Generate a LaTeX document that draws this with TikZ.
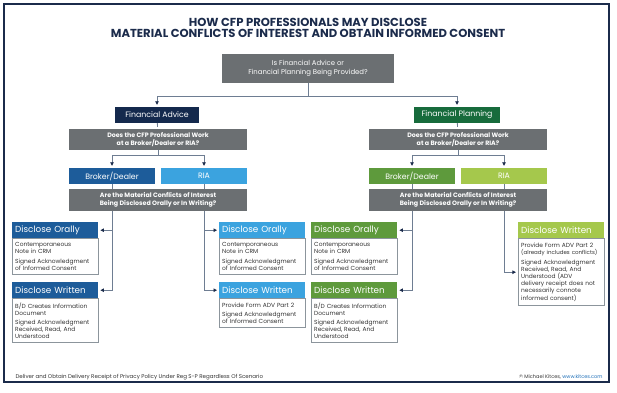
\documentclass[tikz,border=0pt]{standalone}
\usepackage{fontspec}
\setmainfont{Poppins}
\usepackage{tikz}
\usetikzlibrary{positioning, arrows.meta, backgrounds}

\definecolor{navy}{HTML}{1B2B4B}
\definecolor{qgrey}{HTML}{6B6F72}
\definecolor{advnavy}{HTML}{14294D}
\definecolor{plangreen}{HTML}{176B3C}
\definecolor{bdblue}{HTML}{1D5C9A}
\definecolor{riablue}{HTML}{3BA3DF}
\definecolor{bdgreen}{HTML}{5E9A3C}
\definecolor{riagreen}{HTML}{A5C84C}
\definecolor{boxgrey}{HTML}{8C959C}
\definecolor{linegrey}{HTML}{6E7D92}
\definecolor{textgrey}{HTML}{333333}
\definecolor{linkblue}{HTML}{1E6FB8}
\hyphenpenalty=10000

\begin{document}
\begin{tikzpicture}[x=1pt, y=-1pt, >={Triangle[length=3.5pt, width=3.5pt, color=navy]}, node distance=0pt,
            conn/.style={draw=linegrey, line width=0.8pt, shorten >=2pt},
            qbox/.style={fill=qgrey, text=white, minimum width=178pt, minimum height=21pt, inner sep=0pt, align=center, font=\bfseries\fontsize{6.3}{7.6}\selectfont},
            catbox/.style={fill=#1, text=white, minimum width=86pt, minimum height=16pt, inner sep=0pt, font=\fontsize{7.8}{9}\selectfont},
            hdr/.style={fill=#1, text=white, anchor=north west, text width=80pt, inner xsep=3pt, inner ysep=0pt, minimum height=16pt, align=left, font=\fontsize{8.8}{10}\selectfont},
            body/.style={draw=boxgrey, line width=0.6pt, fill=white, text=textgrey, text width=80pt, inner xsep=3pt, inner ysep=2pt, align=left, font=\fontsize{5.9}{7.1}\selectfont, below=of #1}]
            \useasboundingbox (0,0) rectangle (617,392);
            \draw[navy, line width=2pt] (4,4) rectangle (609,382);

            \node[text=navy, align=center, font=\bfseries\fontsize{11.6}{11.5}\selectfont] (title) at (308,28) {HOW CFP PROFESSIONALS MAY DISCLOSE\\MATERIAL CONFLICTS OF INTEREST AND OBTAIN INFORMED CONSENT};

            \node[qbox, minimum width=172pt, minimum height=29pt, font=\fontsize{6.9}{9}\selectfont] (question) at (308,68.5) {Is Financial Advice or\\Financial Planning Being Provided?};

            \node[catbox=advnavy, minimum width=84pt] (advice) at (157,115) {Financial Advice};
            \node[catbox=plangreen] (planning) at (457,115) {Financial Planning};

            \node[qbox] (workA) at (158,139.5) {Does the CFP Professional Work\\at a Broker/Dealer or RIA?};
            \node[qbox] (workP) at (458,139.5) {Does the CFP Professional Work\\at a Broker/Dealer or RIA?};

            \node[catbox=bdblue] (bdA) at (112,176) {Broker/Dealer};
            \node[catbox=riablue] (riaA) at (204,176) {RIA};
            \node[catbox=bdgreen] (bdP) at (412,176) {Broker/Dealer};
            \node[catbox=riagreen] (riaP) at (504,176) {RIA};

            \node[qbox, minimum height=22pt] (modeA) at (158,200) {Are the Material Conflicts of Interest\\Being Disclosed Orally or In Writing?};
            \node[qbox, minimum height=22pt] (modeP) at (458,200) {Are the Material Conflicts of Interest\\Being Disclosed Orally or In Writing?};

            \node[hdr=bdblue] (oralBdA) at (12,222) {Disclose Orally};
            \node[body=oralBdA, minimum height=36pt] (oralBdAtext) {Contemporaneous\\Note in CRM\\[2.5pt]Signed Acknowledgment\\of Informed Consent};
            \node[hdr=bdblue] (writBdA) at (12,282) {Disclose Written};
            \node[body=writBdA, minimum height=44pt] (writBdAtext) {B/D Creates Information\\Document\\[2.5pt]Signed Acknowledgment\\Received, Read, And\\Understood};

            \node[hdr=riablue] (oralRiaA) at (219,222) {Disclose Orally};
            \node[body=oralRiaA, minimum height=36pt] (oralRiaAtext) {Contemporaneous\\Note in CRM\\[2.5pt]Signed Acknowledgment\\of Informed Consent};
            \node[hdr=riablue] (writRiaA) at (219,282) {Disclose Written};
            \node[body=writRiaA, minimum height=29pt] (writRiaAtext) {Provide Form ADV Part 2\\[2.5pt]Signed Acknowledgment\\of Informed Consent};

            \node[hdr=bdgreen] (oralBdP) at (311,222) {Disclose Orally};
            \node[body=oralBdP, minimum height=36pt] (oralBdPtext) {Contemporaneous\\Note in CRM\\[2.5pt]Signed Acknowledgment\\of Informed Consent};
            \node[hdr=bdgreen] (writBdP) at (311,282) {Disclose Written};
            \node[body=writBdP, minimum height=44pt] (writBdPtext) {B/D Creates Information\\Document\\[2.5pt]Signed Acknowledgment\\Received, Read, And\\Understood};

            \node[hdr=riagreen] (writRiaP) at (518,222) {Disclose Written};
            \node[body=writRiaP, minimum height=67pt] (writRiaPtext) {Provide Form ADV Part 2\\\mbox{\fontsize{5.5}{7.1}\selectfont(already includes conflicts)}\\[2.5pt]Signed Acknowledgment\\Received, Read, And\\Understood (ADV\\delivery receipt does not\\necessarily connote\\informed consent)};

            \node[anchor=base west, text=textgrey, font=\fontsize{5.5}{6.5}\selectfont] (footer) at (12,378) {Deliver and Obtain Delivery Receipt of Privacy Policy Under Reg S-P Regardless Of Scenario};
            \node[anchor=base east, text=textgrey, font=\fontsize{5}{6}\selectfont] (credit) at (606,378) {© Michael Kitces, \textcolor{linkblue}{www.kitces.com}};

            \begin{scope}[on background layer]
            \draw[conn, ->] (question.south) -- ++(0,13) -| (advice.north);
            \draw[conn, ->] (question.south) -- ++(0,13) -| (planning.north);
            \draw[conn] (advice) -- (workA);
            \draw[conn] (planning) -- (workP);
            \draw[conn, ->] (workA.south) -- ++(0,5) -| (bdA.north);
            \draw[conn, ->] (workA.south) -- ++(0,5) -| (riaA.north);
            \draw[conn, ->] (workP.south) -- ++(0,5) -| (bdP.north);
            \draw[conn, ->] (workP.south) -- ++(0,5) -| (riaP.north);
            \draw[conn, ->] (bdA.south) |- (oralBdA.east);
            \draw[conn, ->] (bdA.south) |- (writBdA.east);
            \draw[conn, ->] (riaA.south) |- (oralRiaA.west);
            \draw[conn, ->] (riaA.south) |- (writRiaA.west);
            \draw[conn, ->] (bdP.south) |- (oralBdP.east);
            \draw[conn, ->] (bdP.south) |- (writBdP.east);
            \draw[conn, ->] (riaP.south) |- (writRiaPtext.west);
            \end{scope}
        \end{tikzpicture}
\end{document}
